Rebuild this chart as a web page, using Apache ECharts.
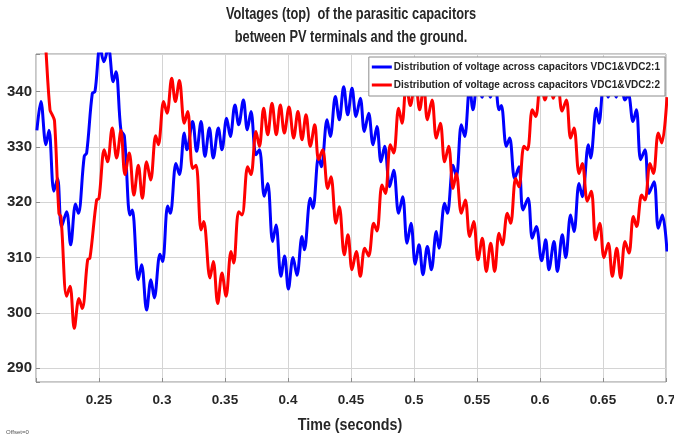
<!DOCTYPE html>
<html>
<head>
<meta charset="utf-8">
<script src="https://cdn.jsdelivr.net/npm/echarts@6/dist/echarts.min.js"></script>
<style>
html,body{margin:0;padding:0;background:#fff;}
#chart{width:674px;height:437px;}
</style>
</head>
<body>
<div id="chart"></div>
<script>
// ---- data ----
const seriesNames = [
  'Distribution of voltage across capacitors VDC1&VDC2:1',
  'Distribution of voltage across capacitors VDC1&VDC2:2'
];
const titleLines = ['Voltages (top)  of the parasitic capacitors', 'between PV terminals and the ground.'];
const xAxisTitle = 'Time (seconds)';
const offsetNote = 'Offset=0';
const xTickValues = [0.25, 0.3, 0.35, 0.4, 0.45, 0.5, 0.55, 0.6, 0.65, 0.7];
const yTickValues = [290, 300, 310, 320, 330, 340];

// series 1 (blue): time [s]
const blueTime = [
  0.2007,0.2039,0.2079,0.2103,0.2142,0.2171,0.2203,0.2243,0.2275,0.2314,0.2336,0.2383,0.2402,0.2447,0.2468,
  0.2508,0.2539,0.2574,0.2613,0.2635,0.2674,0.2701,0.2746,0.2764,0.2812,0.2838,0.2878,0.2912,0.2939,0.2984,
  0.3005,0.3045,0.3066,0.3111,0.3138,0.3177,0.3198,0.3243,0.3275,0.3310,0.3341,0.3376,0.3407,0.3447,0.3476,
  0.3513,0.3542,0.3579,0.3609,0.3646,0.3677,0.3706,0.3746,0.3773,0.3812,0.3839,0.3878,0.3905,0.3944,0.3973,
  0.4003,0.4040,0.4071,0.4111,0.4130,0.4177,0.4198,0.4243,0.4265,0.4310,0.4336,0.4376,0.4407,0.4442,0.4474,
  0.4508,0.4540,0.4574,0.4606,0.4640,0.4675,0.4706,0.4738,0.4767,0.4807,0.4839,0.4878,0.4910,0.4945,0.4976,
  0.5010,0.5040,0.5071,0.5106,0.5138,0.5177,0.5198,0.5243,0.5265,0.5310,0.5336,0.5376,0.5402,0.5442,0.5468,
  0.5508,0.5540,0.5574,0.5606,0.5640,0.5675,0.5693,0.5733,0.5759,0.5799,0.5833,0.5865,0.5905,0.5939,0.5971,
  0.6013,0.6045,0.6071,0.6111,0.6138,0.6177,0.6204,0.6243,0.6270,0.6310,0.6336,0.6384,0.6402,0.6447,0.6468,
  0.6508,0.6540,0.6574,0.6606,0.6640,0.6675,0.6701,0.6738,0.6765,0.6799,0.6833,0.6865,0.6905,0.6939,0.6971,
  0.7008
];
// series 1 (blue): voltage
const blueVolt = [
  333.0,338.2,330.4,333.0,322.0,324.3,315.6,318.3,312.3,319.7,318.0,328.3,328.9,339.7,340.0,
  348.0,345.4,348.0,341.8,343.6,333.0,332.0,317.7,318.6,306.0,308.7,300.5,306.0,302.7,310.6,
  309.3,319.3,318.0,327.0,325.0,332.5,329.5,334.6,329.2,334.6,328.3,333.4,328.0,333.4,329.5,
  335.2,331.9,337.6,334.0,338.5,333.1,336.4,328.6,329.5,321.1,323.4,312.9,315.9,306.6,310.3,
  304.3,310.0,306.8,313.8,311.4,320.7,318.9,328.3,326.4,334.9,331.9,339.1,334.9,340.9,335.8,
  340.6,335.5,338.8,332.8,336.1,330.4,333.7,327.3,330.1,322.8,325.8,318.0,321.0,312.6,316.2,
  308.8,312.3,306.9,312.0,307.8,314.7,311.7,319.8,318.0,326.7,324.6,334.0,331.9,340.9,336.7,
  343.0,339.0,343.5,339.0,343.0,336.7,337.5,330.1,331.6,324.3,326.4,318.6,320.7,313.5,315.6,
  309.4,313.2,307.8,312.9,307.5,314.1,310.0,317.7,314.7,323.4,321.0,330.4,328.0,337.0,334.3,
  342.0,339.0,342.5,339.0,342.0,338.5,339.5,334.6,336.7,327.7,329.5,321.6,323.7,315.3,317.7,
  311.1
];

// series 2 (red): time [s]
const redTime = [
  0.2008,0.2079,0.2111,0.2129,0.2147,0.2182,0.2198,0.2243,0.2270,0.2304,0.2341,0.2367,0.2410,0.2428,0.2481,
  0.2500,0.2542,0.2568,0.2605,0.2640,0.2674,0.2706,0.2740,0.2777,0.2812,0.2844,0.2878,0.2910,0.2950,0.2971,
  0.3013,0.3040,0.3077,0.3106,0.3138,0.3177,0.3204,0.3243,0.3270,0.3310,0.3331,0.3381,0.3407,0.3442,0.3476,
  0.3508,0.3548,0.3569,0.3609,0.3635,0.3680,0.3706,0.3746,0.3773,0.3807,0.3839,0.3873,0.3907,0.3939,0.3971,
  0.4008,0.4045,0.4079,0.4111,0.4143,0.4177,0.4212,0.4243,0.4275,0.4315,0.4341,0.4381,0.4407,0.4447,0.4476,
  0.4508,0.4542,0.4574,0.4609,0.4640,0.4680,0.4706,0.4746,0.4773,0.4812,0.4839,0.4878,0.4905,0.4939,0.4971,
  0.5010,0.5045,0.5077,0.5106,0.5143,0.5177,0.5209,0.5243,0.5275,0.5310,0.5336,0.5376,0.5407,0.5442,0.5474,
  0.5508,0.5542,0.5574,0.5609,0.5640,0.5675,0.5701,0.5741,0.5767,0.5807,0.5833,0.5873,0.5900,0.5939,0.5966,
  0.6005,0.6040,0.6075,0.6106,0.6140,0.6175,0.6209,0.6243,0.6270,0.6310,0.6336,0.6376,0.6407,0.6442,0.6474,
  0.6508,0.6542,0.6574,0.6609,0.6640,0.6675,0.6706,0.6741,0.6767,0.6807,0.6833,0.6873,0.6900,0.6939,0.6966,
  0.7008
];
// series 2 (red): voltage
const redVolt = [
  375.0,347.5,336.7,335.8,334.7,318.0,317.4,303.0,304.8,297.2,302.6,300.8,309.6,309.9,320.4,
  320.7,329.5,327.3,333.4,328.0,333.0,325.0,328.9,321.3,326.7,320.7,327.3,324.0,332.0,330.4,
  338.2,336.1,342.4,338.2,342.0,334.3,336.4,326.1,326.7,315.0,316.5,306.3,309.3,301.7,307.2,
  303.0,311.1,309.0,318.3,317.7,326.4,325.0,332.8,330.1,337.0,332.2,337.9,332.2,337.6,332.5,
  337.2,331.6,336.4,331.3,335.8,330.1,334.0,327.7,329.5,322.5,324.6,316.2,319.2,310.5,314.1,
  307.8,311.1,306.6,311.7,310.3,316.2,314.8,323.1,321.6,330.4,328.9,337.0,334.3,341.5,337.5,
  342.0,336.7,341.2,334.9,338.5,331.6,334.3,327.3,330.1,322.5,325.2,318.0,320.4,313.8,316.5,
  309.6,313.5,307.5,312.6,307.5,314.4,312.3,318.0,316.2,324.3,322.8,330.1,329.5,336.7,335.5,
  342.0,338.5,342.5,338.8,341.5,336.5,338.5,331.6,333.4,325.2,327.0,320.2,322.0,313.2,316.2,
  310.0,312.6,306.6,311.7,306.3,312.9,310.8,317.4,315.6,321.3,320.4,327.0,325.2,332.5,330.7,
  339.0
];

// ---- chart ----
const FONT = "'Liberation Sans',Arial,sans-serif";
const TXT = '#262626';
const pair = (ts, vs) => ts.map((t, i) => [t, vs[i]]);

const chart = echarts.init(document.getElementById('chart'), null, {renderer: 'canvas'});
chart.setOption({
  animation: false,
  backgroundColor: '#ffffff',
  legend: {
    orient: 'vertical',
    right: 9,
    top: 57,
    padding: [3, 5, 4, 3],
    itemGap: 4,
    itemWidth: 20,
    itemHeight: 3,
    icon: 'rect',
    backgroundColor: '#ffffff',
    borderColor: '#8c8c8c',
    borderWidth: 1,
    textStyle: {fontFamily: FONT, fontWeight: 'bold', fontSize: 10, lineHeight: 14, color: TXT, padding: [0, 0, 0, -3]},
    data: seriesNames
  },
  graphic: [
    {type: 'text', x: 351, y: 15, scaleX: 0.8, silent: true,
     style: {text: titleLines[0], font: 'bold 16px ' + FONT, fill: TXT, align: 'center', verticalAlign: 'middle'}},
    {type: 'text', x: 351, y: 38, scaleX: 0.8, silent: true,
     style: {text: titleLines[1], font: 'bold 16px ' + FONT, fill: TXT, align: 'center', verticalAlign: 'middle'}},
    {type: 'text', x: 350, y: 425, scaleX: 0.84, silent: true,
     style: {text: xAxisTitle, font: 'bold 17px ' + FONT, fill: TXT, align: 'center', verticalAlign: 'middle'}},
    {type: 'text', x: 6, y: 432, silent: true,
     style: {text: offsetNote, font: '6px ' + FONT, fill: '#555', align: 'left', verticalAlign: 'middle'}}
  ],
  grid: {left: 36, right: 8, top: 54, bottom: 55, containLabel: false, outerBoundsMode: 'none',
         show: true, borderColor: '#8c8c8c', borderWidth: 1, backgroundColor: '#ffffff'},
  xAxis: {
    type: 'value',
    min: 0.2,
    max: 0.7,
    interval: 0.05,
    axisLine: {show: false},
    axisTick: {show: true, inside: true, length: 4, lineStyle: {color: '#8c8c8c'}},
    splitLine: {show: true, lineStyle: {color: '#d4d4d4', width: 1}},
    axisLabel: {
      fontFamily: FONT, fontWeight: 'bold', fontSize: 13.5, color: TXT, margin: 11,
      formatter: v => {
        const hit = xTickValues.find(t => Math.abs(t - v) < 1e-6);
        return hit === undefined ? '' : String(hit);
      }
    }
  },
  yAxis: {
    type: 'value',
    min: 287.5,
    max: 346.8,
    splitNumber: 6,
    axisLine: {show: false},
    axisTick: {show: true, inside: true, length: 4, lineStyle: {color: '#8c8c8c'}},
    splitLine: {show: true, lineStyle: {color: '#d4d4d4', width: 1}},
    axisLabel: {
      fontFamily: FONT, fontWeight: 'bold', fontSize: 15, color: TXT, margin: 4,
      formatter: v => {
        const hit = yTickValues.find(t => Math.abs(t - v) < 1e-6);
        return hit === undefined ? '' : String(hit);
      }
    }
  },
  series: [
    {
      name: seriesNames[0], type: 'line', showSymbol: false, smooth: 0.35,
      color: '#0000ff', lineStyle: {color: '#0000ff', width: 3},
      data: pair(blueTime, blueVolt)
    },
    {
      name: seriesNames[1], type: 'line', showSymbol: false, smooth: 0.35,
      color: '#ff0000', lineStyle: {color: '#ff0000', width: 3},
      data: pair(redTime, redVolt)
    }
  ]
});
</script>
</body>
</html>
